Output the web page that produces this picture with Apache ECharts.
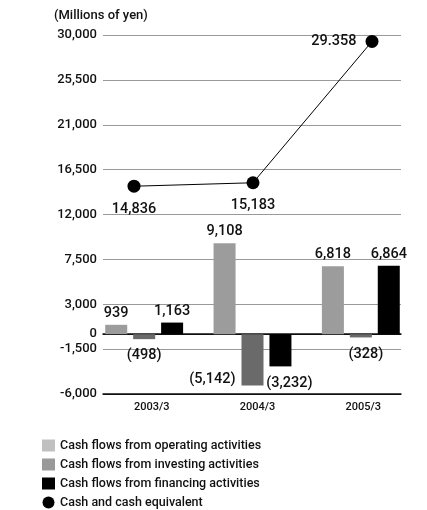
<!DOCTYPE html>
<html>
<head>
<meta charset="utf-8">
<script src="https://cdn.jsdelivr.net/npm/echarts@6/dist/echarts.min.js"></script>
<style>
  html, body { margin: 0; padding: 0; background: #fff; }
  #charts { width: 427px; height: 510px; }
</style>
</head>
<body>
<div id="charts"></div>
<script>
// values
let categories = ["2003/3", "2004/3", "2005/3"];
let operating = [939, 9108, 6818];
let investing = [-498, -5142, -328];
let financing = [1163, -3232, 6864];
let cashEquivalent = [14836, 15183, 29358];
let cashLabels = ["14,836", "15,183", "29.358"];
let yTicks = [-6000, -1500, 0, 3000, 7500, 12000, 16500, 21000, 25500, 30000];

let font = "Roboto, 'Liberation Sans', sans-serif";
let chartDom = document.getElementById("charts");
let myChart = echarts.init(chartDom);
let option;

function fmt(v) {
  let s = Math.abs(v).toLocaleString("en-US");
  return v < 0 ? "(" + s + ")" : s;
}

// black lines at -6000 and 0, grey for the rest
let splitColors = yTicks.map(function (t) {
  return t === 0 || t === -6000 ? "#111" : "#999";
});

let gridTop = 35;
let gridBottom = 116;

function hiddenY(i) {
  return { gridIndex: i, type: "value", min: -6000, max: 30000, show: false, splitLine: { show: false } };
}

// negative labels sit a bit further below the bar
function barData(arr, tweak) {
  return arr.map(function (v, i) {
    let d = { value: v };
    let lab = v < 0 ? { distance: 9 } : null;
    if (tweak && tweak[i]) lab = Object.assign(lab || {}, tweak[i]);
    if (lab) d.label = lab;
    return d;
  });
}

let barLabel = {
  show: true,
  position: "outside",
  distance: 4,
  fontFamily: font,
  fontSize: 14.5,
  fontWeight: 500,
  color: "#111",
  formatter: function (p) {
    return fmt(p.value);
  },
};

option = {
  animation: false,
  title: {
    text: "(Millions of yen)",
    left: 54,
    top: 9,
    padding: 0,
    textStyle: { fontFamily: font, fontSize: 13, fontWeight: 500, color: "#111" },
  },
  grid: [
    { left: 103, right: 26, top: gridTop, bottom: gridBottom }, // axes + grid lines
    { left: 90, right: 12, top: gridTop, bottom: gridBottom }, // bars
    { left: 134, right: 55, top: gridTop, bottom: gridBottom }, // line
    { left: 99, right: 11, top: gridTop, bottom: gridBottom }, // x labels
  ],
  legend: {
    orient: "vertical",
    left: 42,
    top: 439,
    height: 100,
    padding: 0,
    itemWidth: 13,
    itemHeight: 12,
    itemGap: 6,
    selectedMode: false,
    textStyle: { fontFamily: font, fontSize: 12.5, fontWeight: 500, color: "#111" },
    data: [
      { name: "Cash flows from operating activities", icon: "rect", itemStyle: { color: "#c0c0c0" } },
      { name: "Cash flows from investing activities", icon: "rect", itemStyle: { color: "#999" } },
      { name: "Cash flows from financing activities", icon: "rect", itemStyle: { color: "#000" } },
      { name: "Cash and cash equivalent", icon: "circle", itemStyle: { color: "#000" } },
    ],
  },
  xAxis: [
    {
      gridIndex: 0,
      type: "category",
      data: categories,
      axisLine: { onZero: false, lineStyle: { color: "#111", width: 1.5 } },
      axisTick: { show: false },
      axisLabel: { show: false },
    },
    {
      gridIndex: 0,
      type: "category",
      position: "top",
      data: categories,
      axisLine: { onZero: true, lineStyle: { color: "#111", width: 1.5 } },
      axisTick: { show: false },
      axisLabel: { show: false },
    },
    { gridIndex: 1, type: "category", data: categories, show: false },
    { gridIndex: 2, type: "category", data: categories, boundaryGap: false, show: false },
    {
      gridIndex: 3,
      type: "category",
      data: categories,
      axisLine: { show: false },
      axisTick: { show: false },
      axisLabel: { margin: 8, fontFamily: font, fontSize: 11, fontWeight: 500, color: "#111" },
    },
  ],
  yAxis: [
    {
      gridIndex: 0,
      type: "value",
      min: -6000,
      max: 30000,
      axisLine: { show: false },
      axisTick: { show: false, customValues: yTicks },
      axisLabel: {
        customValues: yTicks,
        margin: 6,
        fontFamily: font,
        fontSize: 13,
        fontWeight: 500,
        color: "#111",
        formatter: function (v) {
          return v.toLocaleString("en-US");
        },
      },
      splitLine: { show: true, lineStyle: { color: splitColors, width: 1 } },
    },
    hiddenY(1),
    hiddenY(2),
    hiddenY(3),
  ],
  series: [
    {
      name: "Cash flows from operating activities",
      type: "bar",
      xAxisIndex: 2,
      yAxisIndex: 1,
      barWidth: 22,
      barGap: "27%",
      itemStyle: { color: "#9c9c9c" },
      label: barLabel,
      data: barData(operating),
    },
    {
      name: "Cash flows from investing activities",
      type: "bar",
      xAxisIndex: 2,
      yAxisIndex: 1,
      barWidth: 22,
      barGap: "27%",
      itemStyle: { color: "#6a6a6a" },
      label: barLabel,
      data: barData(investing, { 1: { position: "left", distance: 6, offset: [0, 20] }, 2: { offset: [5, 0] } }),
    },
    {
      name: "Cash flows from financing activities",
      type: "bar",
      xAxisIndex: 2,
      yAxisIndex: 1,
      barWidth: 22,
      barGap: "27%",
      itemStyle: { color: "#000" },
      label: barLabel,
      data: barData(financing, { 1: { offset: [9, 0] } }),
    },
    {
      name: "Cash and cash equivalent",
      type: "line",
      xAxisIndex: 3,
      yAxisIndex: 2,
      symbol: "circle",
      symbolSize: 13,
      lineStyle: { color: "#000", width: 1 },
      itemStyle: { color: "#000" },
      label: {
        show: true,
        position: "bottom",
        distance: 9,
        fontFamily: font,
        fontSize: 14.5,
        fontWeight: 500,
        color: "#111",
        formatter: function (p) {
          return cashLabels[p.dataIndex];
        },
      },
      data: cashEquivalent.map(function (v, i) {
        let d = { value: v };
        if (i === 2) d.label = { position: "left", distance: 9 };
        return d;
      }),
    },
  ],
};

option && myChart.setOption(option);
</script>
</body>
</html>
